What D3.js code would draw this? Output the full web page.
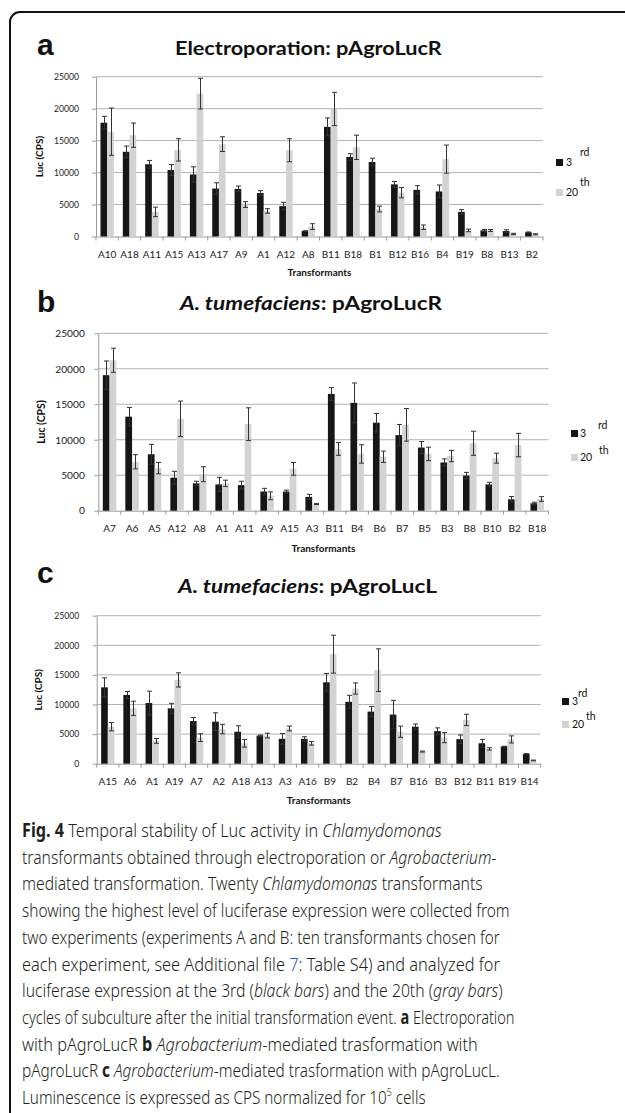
<!DOCTYPE html>
<html><head><meta charset="utf-8">
<script src="https://cdn.jsdelivr.net/npm/d3@7"></script>
<style>body{margin:0;background:#fff}</style>
</head><body>
<svg id="chart" width="625" height="1113" xmlns="http://www.w3.org/2000/svg"></svg>
<script>
// ---------- DATA ----------
const yTickValues = [0, 5000, 10000, 15000, 20000, 25000];
const seriesNames = ["3rd", "20th"];

// Panel a: Electroporation: pAgroLucR
const catsA = ["A10","A18","A11","A15","A13","A17","A9","A1","A12","A8","B11","B18","B1","B12","B16","B4","B19","B8","B13","B2"];
const a3rd    = [17800,13250,11300,10400,9700,7500,7450,6800,4750,850,17150,12450,11650,8150,7300,7050,3850,950,850,650];
const a3rdErr = [1000,900,600,850,1200,900,450,370,600,60,1400,500,600,450,650,1000,350,150,200,60];
const a20th   = [16400,15850,3850,13550,22350,14450,5000,4000,13500,1550,19950,13950,4300,6850,1450,12100,950,950,400,350];
const a20thErr= [3700,1900,750,1750,2400,1150,450,350,1800,450,2600,1900,450,800,350,2200,200,150,100,80];

// Panel b: A. tumefaciens: pAgroLucR
const catsB = ["A7","A6","A5","A12","A8","A1","A11","A9","A15","A3","B11","B4","B6","B7","B5","B3","B8","B10","B2","B18"];
const b3rd    = [19100,13250,7950,4650,3850,3700,3600,2700,2700,1950,16450,15200,12400,10650,8900,6800,4950,3700,1600,1050];
const b3rdErr = [2000,1300,1400,900,300,1000,550,450,200,350,900,2800,1300,1500,850,500,450,300,400,150];
const b20th   = [21200,6900,6000,12950,5150,3850,12200,2100,5900,950,8700,8000,7600,12100,8000,7700,9500,7400,9250,1650];
const b20thErr= [1700,1000,800,2500,1050,450,2300,550,900,80,900,1300,800,2300,950,800,1700,700,1650,330];

// Panel c: A. tumefaciens: pAgroLucL
const catsC = ["A15","A6","A1","A19","A7","A2","A18","A13","A3","A16","B9","B2","B4","B7","B16","B3","B12","B11","B19","B14"];
const c3rd    = [12900,11600,10250,9350,7200,7100,5400,4750,4200,4200,13750,10450,8800,8300,6250,5500,4150,3450,2900,1650];
const c3rdErr = [1600,600,2000,850,600,1500,1000,100,900,350,1500,1100,850,2400,450,550,700,650,50,60];
const c20th   = [6250,9350,3850,14150,4400,5850,3450,4750,5950,3450,18500,12700,15800,5400,2050,4400,7400,2500,4100,550];
const c20thErr= [700,1200,400,1200,650,800,650,400,400,300,3200,950,3600,950,80,850,950,200,600,60];

// ---------- LAYOUT ----------
const panels = [
  {letter:"a", letterY:55, titleParts:[{t:"Electroporation: pAgroLucR",it:false}], titleX:175, titleY:55, titleW:267,
   left:96, right:543, top:76.7, bottom:236.5, tickFs:8.6, tickPad:13, catFs:10, catPad:14, ylabX:43, ylabFs:10, xtitleY:276,
   leg:{sqX:556, sq1Y:159, sq2Y:189, tX:566, t1Y:166, t2Y:196, s1X:580, s1Y:156, s2X:580, s2Y:186},
   cats:catsA, s:[a3rd,a20th], e:[a3rdErr,a20thErr]},
  {letter:"b", letterY:312, titleParts:[{t:"A. tumefaciens",it:true},{t:": pAgroLucR",it:false}], titleX:180, titleY:310, titleW:262,
   left:98.3, right:548.5, top:333.3, bottom:510.7, tickFs:10.2, tickPad:9.5, catFs:10.2, catPad:14.5, ylabX:45, ylabFs:10.5, xtitleY:552,
   leg:{sqX:571, sq1Y:430, sq2Y:454, tX:580, t1Y:437, t2Y:461, s1X:598, s1Y:429, s2X:599, s2Y:454},
   cats:catsB, s:[b3rd,b20th], e:[b3rdErr,b20thErr]},
  {letter:"c", letterY:583, titleParts:[{t:"A. tumefaciens",it:true},{t:": pAgroLucL",it:false}], titleX:178, titleY:593, titleW:259,
   left:96.7, right:540.7, top:615.7, bottom:763.7, tickFs:8.6, tickPad:13.5, catFs:10, catPad:14.5, ylabX:42, ylabFs:10, xtitleY:804,
   leg:{sqX:562, sq1Y:698, sq2Y:721, tX:572, t1Y:705, t2Y:728, s1X:578, s1Y:697, s2X:586, s2Y:720},
   cats:catsC, s:[c3rd,c20th], e:[c3rdErr,c20thErr]}
];
const colors = ["#161616", "#d3d3d3"];
const chartFont = "Lato, 'Open Sans', sans-serif";

const svg = d3.select("#chart");
svg.append("rect").attr("x",10).attr("y",12).attr("width",800).attr("height",1300)
  .attr("rx",10).attr("fill","none").attr("stroke","#111").attr("stroke-width",2);

// squeeze a text element horizontally to a target width (keeps glyph height)
function fitWidth(textSel, x, y, target) {
  const w = textSel.node().getComputedTextLength();
  const sx = w > 0 ? target / w : 1;
  textSel.attr("x", 0).attr("y", 0).attr("transform", `translate(${x},${y}) scale(${sx},1)`);
}

panels.forEach(p => {
  const g = svg.append("g");
  const x = d3.scaleBand().domain(p.cats).range([p.left, p.right]).padding(0);
  const inner = d3.scaleBand().domain(seriesNames).range([0, x.bandwidth()]).paddingInner(0).paddingOuter(0.67);
  const y = d3.scaleLinear().domain([0, 25000]).range([p.bottom, p.top]);

  // panel letter
  g.append("text").attr("x",37).attr("y",p.letterY).text(p.letter)
    .attr("font-family","'Liberation Sans', Arial, sans-serif").attr("font-weight","bold").attr("font-size",30).attr("fill","#111");
  // title
  const tt = g.append("text")
    .attr("font-family",chartFont).attr("font-weight","bold").attr("font-size",18.5).attr("fill","#111");
  p.titleParts.forEach(tp => tt.append("tspan").text(tp.t).attr("font-style", tp.it ? "italic" : "normal"));
  fitWidth(tt, p.titleX, p.titleY, p.titleW);

  // gridlines
  g.append("g").selectAll("line").data(yTickValues.filter(d => d > 0)).join("line")
    .attr("x1",p.left).attr("x2",p.right).attr("y1",d=>y(d)).attr("y2",d=>y(d))
    .attr("stroke","#b3b3b3").attr("stroke-width",1);

  // y axis
  const ya = g.append("g").attr("transform",`translate(${p.left},0)`)
    .call(d3.axisLeft(y).tickValues(yTickValues).tickSize(4).tickSizeOuter(0).tickPadding(p.tickPad).tickFormat(d3.format("d")));
  ya.select(".domain").attr("stroke","#9a9a9a");
  ya.selectAll(".tick line").attr("stroke","#9a9a9a");
  ya.selectAll("text").attr("font-family",chartFont).attr("font-size",p.tickFs).attr("fill","#222");

  // x axis
  const xa = g.append("g").attr("transform",`translate(0,${p.bottom})`)
    .call(d3.axisBottom(x).tickSize(0).tickSizeOuter(0).tickPadding(p.catPad));
  xa.select(".domain").attr("stroke","#9a9a9a");
  xa.selectAll("text").attr("font-family",chartFont).attr("font-size",p.catFs).attr("fill","#222");
  // category boundary tick marks
  const bounds = p.cats.map(c => x(c)).concat([x.range()[1]]);
  g.append("g").selectAll("line").data(bounds).join("line")
    .attr("x1",d=>d).attr("x2",d=>d).attr("y1",p.bottom).attr("y2",p.bottom+4)
    .attr("stroke","#9a9a9a");

  // bars
  seriesNames.forEach((sn, si) => {
    g.append("g").selectAll("rect").data(p.cats).join("rect")
      .attr("x", c => x(c) + inner(sn))
      .attr("width", inner.bandwidth())
      .attr("y", (c,i) => y(p.s[si][i]))
      .attr("height", (c,i) => y(0) - y(p.s[si][i]))
      .attr("fill", colors[si]);
  });
  // error bars
  seriesNames.forEach((sn, si) => {
    const eg = g.append("g").attr("stroke","#333").attr("stroke-width",1);
    p.cats.forEach((c,i) => {
      const cx = Math.round(x(c) + inner(sn) + inner.bandwidth()/2) + 0.5;
      const v = p.s[si][i], e = p.e[si][i];
      const y1 = y(v + e), y2 = y(Math.max(0, v - e));
      eg.append("line").attr("x1",cx).attr("x2",cx).attr("y1",y1).attr("y2",y2);
      eg.append("line").attr("x1",cx-2.5).attr("x2",cx+2.5).attr("y1",y1).attr("y2",y1);
      eg.append("line").attr("x1",cx-2.5).attr("x2",cx+2.5).attr("y1",y2).attr("y2",y2);
    });
  });

  // y label
  g.append("text").attr("transform",`translate(${p.ylabX},${(p.top+p.bottom)/2}) rotate(-90)`)
    .attr("text-anchor","middle").attr("font-family",chartFont).attr("font-weight","bold")
    .attr("font-size",p.ylabFs).attr("fill","#111").text("Luc (CPS)");
  // x title
  g.append("text").attr("x",(p.left+p.right)/2).attr("y",p.xtitleY).attr("text-anchor","middle")
    .attr("font-family",chartFont).attr("font-weight","bold").attr("font-size",10).attr("fill","#111").text("Transformants");

  // legend
  const L = p.leg;
  const lg = g.append("g").attr("font-family",chartFont).attr("font-size",10.5).attr("fill","#111");
  lg.append("rect").attr("x",L.sqX).attr("y",L.sq1Y).attr("width",7).attr("height",7).attr("fill",colors[0]);
  lg.append("rect").attr("x",L.sqX).attr("y",L.sq2Y).attr("width",7).attr("height",7).attr("fill",colors[1]);
  lg.append("text").attr("x",L.tX).attr("y",L.t1Y).text("3");
  lg.append("text").attr("x",L.tX).attr("y",L.t2Y).text("20");
  lg.append("text").attr("x",L.s1X).attr("y",L.s1Y).text("rd");
  lg.append("text").attr("x",L.s2X).attr("y",L.s2Y).text("th");
});

// ---------- CAPTION ----------
const captionLines = [
  [["Fig. 4","b"],[" Temporal stability of Luc activity in ",""],["Chlamydomonas","i"]],
  [["transformants obtained through electroporation or ",""],["Agrobacterium","i"],["-",""]],
  [["mediated transformation. Twenty ",""],["Chlamydomonas","i"],[" transformants",""]],
  [["showing the highest level of luciferase expression were collected from",""]],
  [["two experiments (experiments A and B: ten transformants chosen for",""]],
  [["each experiment, see Additional file ",""],["7","l"],[": Table S4) and analyzed for",""]],
  [["luciferase expression at the 3rd (",""],["black bars","i"],[") and the 20th (",""],["gray bars","i"],[")",""]],
  [["cycles of subculture after the initial transformation event. ",""],["a","b"],[" Electroporation",""]],
  [["with pAgroLucR ",""],["b","b"],[" ",""],["Agrobacterium","i"],["-mediated trasformation with",""]],
  [["pAgroLucR ",""],["c","b"],[" ",""],["Agrobacterium","i"],["-mediated trasformation with pAgroLucL.",""]],
  [["Luminescence is expressed as CPS normalized for 10",""],["5","s"],[" cells",""]]
];
const captionWidths = [420, 475, 461, 488, 478, 478, 481, 493, 456, 478, 404];
const cap = svg.append("g").attr("font-family","'Noto Sans', 'Open Sans', sans-serif").attr("font-size",19)
  .attr("font-weight",300).attr("fill","#231f20");
captionLines.forEach((line, li) => {
  const t = cap.append("text");
  line.forEach(([s, st]) => {
    const ts = t.append("tspan").text(s);
    if (st === "b") ts.attr("font-weight","bold");
    if (st === "i") ts.attr("font-style","italic");
    if (st === "l") ts.attr("fill","#2b4fd8");
    if (st === "s") ts.attr("font-size",11).attr("dy",-8);
    if (st === "" && li === 10 && s === " cells") ts.attr("dy",8);
  });
  fitWidth(t, 22, 837 + li*26.7, captionWidths[li]);
});
</script>
</body></html>
